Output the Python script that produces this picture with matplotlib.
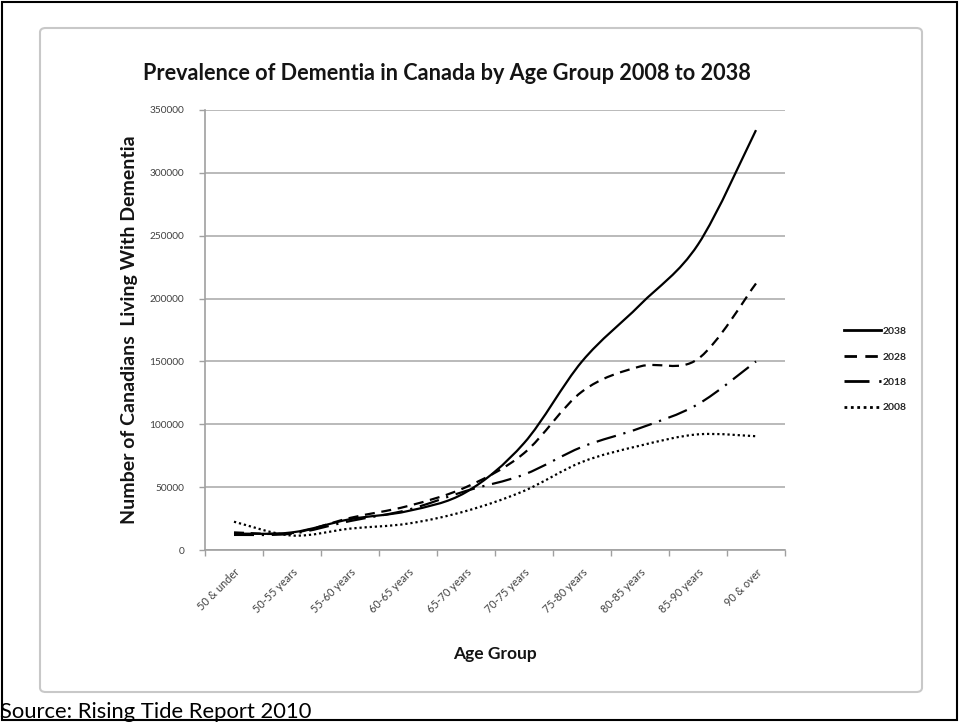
import numpy as np
import matplotlib.pyplot as plt
from matplotlib.path import Path
from matplotlib.patches import PathPatch, FancyBboxPatch, Rectangle
from matplotlib.lines import Line2D

#################################################################
# DATA
#################################################################
age_groups = ['50 & under', '50-55 years', '55-60 years', '60-65 years',
              '65-70 years', '70-75 years', '75-80 years', '80-85 years',
              '85-90 years', '90 & over']

cases_2038 = [13000, 14000, 24500, 31000, 46000, 85000, 150000, 195000, 243000, 334000]
cases_2028 = [14000, 13500, 25500, 35000, 50000, 77000, 126000, 146000, 152000, 212000]
cases_2018 = [12000, 13000, 23000, 32000, 47000, 60000, 82000, 97000, 116000, 150000]
cases_2008 = [22500, 11500, 17000, 21000, 31000, 47000, 70000, 83000, 92000, 90500]

years = ['2038', '2028', '2018', '2008']
y_ticks = [0, 50000, 100000, 150000, 200000, 250000, 300000, 350000]

plt.rcParams['font.family'] = ['Lato', 'DejaVu Sans']


def smooth_path(xs, ys):
    """Excel-like smoothed line: cubic Bezier segments through the points."""
    pts = np.column_stack([xs, ys]).astype(float)
    n = len(pts)
    verts = [pts[0]]
    codes = [Path.MOVETO]
    for i in range(n - 1):
        p0 = pts[i - 1] if i > 0 else pts[i]
        p1 = pts[i]
        p2 = pts[i + 1]
        p3 = pts[i + 2] if i + 2 < n else pts[i + 1]
        c1 = p1 + (p2 - p0) / 6.0
        c2 = p2 - (p3 - p1) / 6.0
        verts += [c1, c2, p2]
        codes += [Path.CURVE4] * 3
    return Path(verts, codes)


fig = plt.figure(figsize=(9.59, 7.23), dpi=100)

# slide frame and inner chart border
fig.patches.append(Rectangle((0.002, 0.004), 0.996, 0.993, transform=fig.transFigure,
                             fill=False, edgecolor='black', linewidth=1.5))
fig.patches.append(FancyBboxPatch((40 / 959, 1 - 692 / 723), 882 / 959, 664 / 723,
                                  boxstyle='round,pad=0,rounding_size=0.006',
                                  transform=fig.transFigure, fill=False,
                                  edgecolor='#c8c8c8', linewidth=1.5))

ax = fig.add_axes([205 / 959, 1 - 550 / 723, 580 / 959, 440 / 723])

x = np.arange(len(age_groups))
styles = {
    '2038': dict(linestyle='-'),
    '2028': dict(linestyle=(0, (4.5, 3))),
    '2018': dict(linestyle=(0, (9, 3.5, 1, 3.5))),
    '2008': dict(linestyle=(0, (1, 1.3))),
}
series = dict(zip(years, [cases_2038, cases_2028, cases_2018, cases_2008]))

handles = []
for yr in years:
    patch = PathPatch(smooth_path(x, series[yr]), fill=False, edgecolor='black',
                      linewidth=1.6, capstyle='butt', **styles[yr])
    ax.add_patch(patch)
    handles.append(Line2D([], [], color='black', linewidth=2, **styles[yr]))

ax.set_xlim(-0.5, len(age_groups) - 0.5)
ax.set_ylim(0, 350000)

ax.set_yticks(y_ticks)
ax.set_yticklabels([str(v) for v in y_ticks], fontsize=7.3, color='#404040')
ax.yaxis.grid(True, color='#b4b4b4', linewidth=1.3)
ax.set_axisbelow(True)

ax.set_xticks(np.arange(-0.5, len(age_groups), 1.0))
ax.set_xticklabels([])
ax.set_xticks(x, minor=True)
ax.set_xticklabels(age_groups, minor=True, rotation=45, ha='right',
                   rotation_mode='anchor', fontsize=7.8, color='#404040')
ax.tick_params(axis='x', which='minor', length=0, pad=12)
ax.tick_params(axis='x', which='major', length=4, color='#a0a0a0', width=1)
ax.tick_params(axis='y', length=4, color='#a0a0a0', width=1, pad=11)

for side in ['top', 'right']:
    ax.spines[side].set_visible(False)
for side in ['left', 'bottom']:
    ax.spines[side].set_color('#a0a0a0')
    ax.spines[side].set_linewidth(1.2)

fig.text(447 / 959, 1 - 73 / 723,
         'Prevalence of Dementia in Canada by Age Group 2008 to 2038',
         fontsize=15.6, fontweight='bold', color='#141414', ha='center', va='center')
ax.set_xlabel('Age Group', fontsize=12.5, fontweight='bold', color='#141414', labelpad=22)
ax.set_ylabel('Number of Canadians  Living With Dementia', fontsize=14,
              fontweight='bold', color='#141414', labelpad=8)

leg = ax.legend(handles, years, loc='center left', bbox_to_anchor=(1.085, 0.41),
                frameon=False, handlelength=3.6, handletextpad=0.1,
                labelspacing=1.55, prop={'size': 7.5, 'weight': 'bold'})
for t in leg.get_texts():
    t.set_color('#262626')

fig.text(0.0, 0.002, 'Source: Rising Tide Report 2010', fontsize=15.8,
         color='black', ha='left', va='bottom')

fig.savefig('out.png', dpi=100)
plt.close(fig)
